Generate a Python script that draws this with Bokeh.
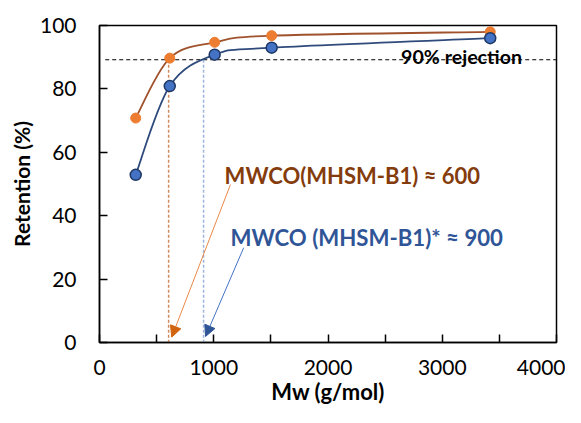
from bokeh.plotting import figure
from bokeh.models import Range1d, FixedTicker, Arrow, NormalHead, ColumnDataSource
from bokeh.core.properties import value
from bokeh.embed import file_html
from bokeh.resources import INLINE

# ---- data ----
mw = [317, 615, 1008, 1507, 3420]
ret_b1 = [70.8, 89.7, 94.7, 96.8, 98.0]          # MHSM-B1 (orange)
ret_b1s = [52.9, 80.9, 90.8, 93.0, 96.0]         # MHSM-B1* (blue)
rejection_level = 89.2
mwco_b1 = 605
mwco_b1s = 911
x_ticks = [0, 1000, 2000, 3000, 4000]
x_minor = [500, 1500, 2500, 3500]
y_ticks = [0, 20, 40, 60, 80, 100]

FONT = "Lato"

def bezier_segments(xs, ys):
    """Excel-style smoothing: cubic Bezier segments through the points."""
    n = len(xs)
    seg = dict(x0=[], y0=[], x1=[], y1=[], cx0=[], cy0=[], cx1=[], cy1=[])
    for i in range(n - 1):
        p0 = max(i - 1, 0)
        p3 = min(i + 2, n - 1)
        seg["x0"].append(xs[i]); seg["y0"].append(ys[i])
        seg["x1"].append(xs[i + 1]); seg["y1"].append(ys[i + 1])
        seg["cx0"].append(xs[i] + (xs[i + 1] - xs[p0]) / 6.0)
        seg["cy0"].append(ys[i] + (ys[i + 1] - ys[p0]) / 6.0)
        seg["cx1"].append(xs[i + 1] - (xs[p3] - xs[i]) / 6.0)
        seg["cy1"].append(ys[i + 1] - (ys[p3] - ys[i]) / 6.0)
    return ColumnDataSource(seg)

p = figure(width=565, height=407,
           x_range=Range1d(0, 4000), y_range=Range1d(0, 100),
           output_backend="svg", toolbar_location=None,
           min_border_left=99, min_border_right=9,
           min_border_top=25, min_border_bottom=65)

p.background_fill_color = "white"
p.border_fill_color = "white"
p.outline_line_color = "black"
p.outline_line_width = 1.5
p.xgrid.visible = False
p.ygrid.visible = False

# axes
xa = p.xaxis[0]
xa.ticker = FixedTicker(ticks=x_ticks, minor_ticks=x_minor)
xa.axis_label = "Mw (g/mol)"
ya = p.yaxis[0]
ya.ticker = FixedTicker(ticks=y_ticks)
ya.axis_label = "Retention (%)"
for ax in (xa, ya):
    ax.axis_line_color = "black"
    ax.axis_line_width = 1.5
    ax.major_tick_in = 8
    ax.major_tick_out = 0
    ax.minor_tick_in = 8
    ax.minor_tick_out = 0
    ax.major_tick_line_color = "black"
    ax.major_tick_line_width = 1.5
    ax.minor_tick_line_color = "black"
    ax.minor_tick_line_width = 1.5
    ax.major_label_text_font = FONT
    ax.major_label_text_font_size = "21px"
    ax.major_label_text_color = "black"
    ax.axis_label_text_font = FONT
    ax.axis_label_text_font_style = "bold"
    ax.axis_label_text_color = "black"
xa.axis_label_text_font_size = "22px"
ya.axis_label_text_font_size = "21px"
xa.major_label_standoff = 17
xa.axis_label_standoff = 0
ya.major_label_standoff = 23
ya.axis_label_standoff = 3

# reference lines
p.segment(x0=[50], y0=[rejection_level], x1=[4000], y1=[rejection_level],
          line_color="black", line_width=1, line_dash="4 3")
p.segment(x0=[mwco_b1], y0=[rejection_level], x1=[mwco_b1], y1=[0],
          line_color="#D08A5C", line_width=1.5, line_dash="3 2")
p.segment(x0=[mwco_b1s], y0=[rejection_level], x1=[mwco_b1s], y1=[0],
          line_color="#9DB4DE", line_width=1.5, line_dash="3 2")

# smoothed curves
p.bezier(x0="x0", y0="y0", x1="x1", y1="y1", cx0="cx0", cy0="cy0", cx1="cx1", cy1="cy1",
         source=bezier_segments(mw, ret_b1), line_color="#A0522D", line_width=1.8)
p.bezier(x0="x0", y0="y0", x1="x1", y1="y1", cx0="cx0", cy0="cy0", cx1="cx1", cy1="cy1",
         source=bezier_segments(mw, ret_b1s), line_color="#2F4B7C", line_width=1.8)

# markers
p.scatter(mw, ret_b1, size=10, fill_color="#ED7D31", line_color="#ED7D31")
p.scatter(mw, ret_b1s, size=11, fill_color="#4472C4", line_color="#1F3864", line_width=1.5)

# arrows
p.add_layout(Arrow(x_start=1146, y_start=49.8, x_end=632, y_end=1.7,
                   line_color="#E8894A", line_width=1,
                   end=NormalHead(size=11, fill_color="#D0640F", line_color="#D0640F")))
p.add_layout(Arrow(x_start=1262, y_start=29.9, x_end=928, y_end=1.9,
                   line_color="#4472C4", line_width=1,
                   end=NormalHead(size=11, fill_color="#2F5597", line_color="#2F5597")))

# annotation texts
p.text(x=[1095], y=[52.7], text=["MWCO(MHSM-B1) \u2248 600"],
       text_font=value(FONT), text_font_size="22px", text_font_style="bold",
       text_color="#843C0C", text_align="left", text_baseline="alphabetic")
p.text(x=[1147], y=[33.2], text=["MWCO (MHSM-B1)* \u2248 900"],
       text_font=value(FONT), text_font_size="22.2px", text_font_style="bold",
       text_color="#2F5597", text_align="left", text_baseline="alphabetic")
p.text(x=[2640], y=[90.2], text=["90% rejection"],
       text_font=value(FONT), text_font_size="19.6px", text_font_style="bold",
       text_color="black", text_align="left", text_baseline="alphabetic")

open("out.html", "w").write(file_html(p, INLINE))
